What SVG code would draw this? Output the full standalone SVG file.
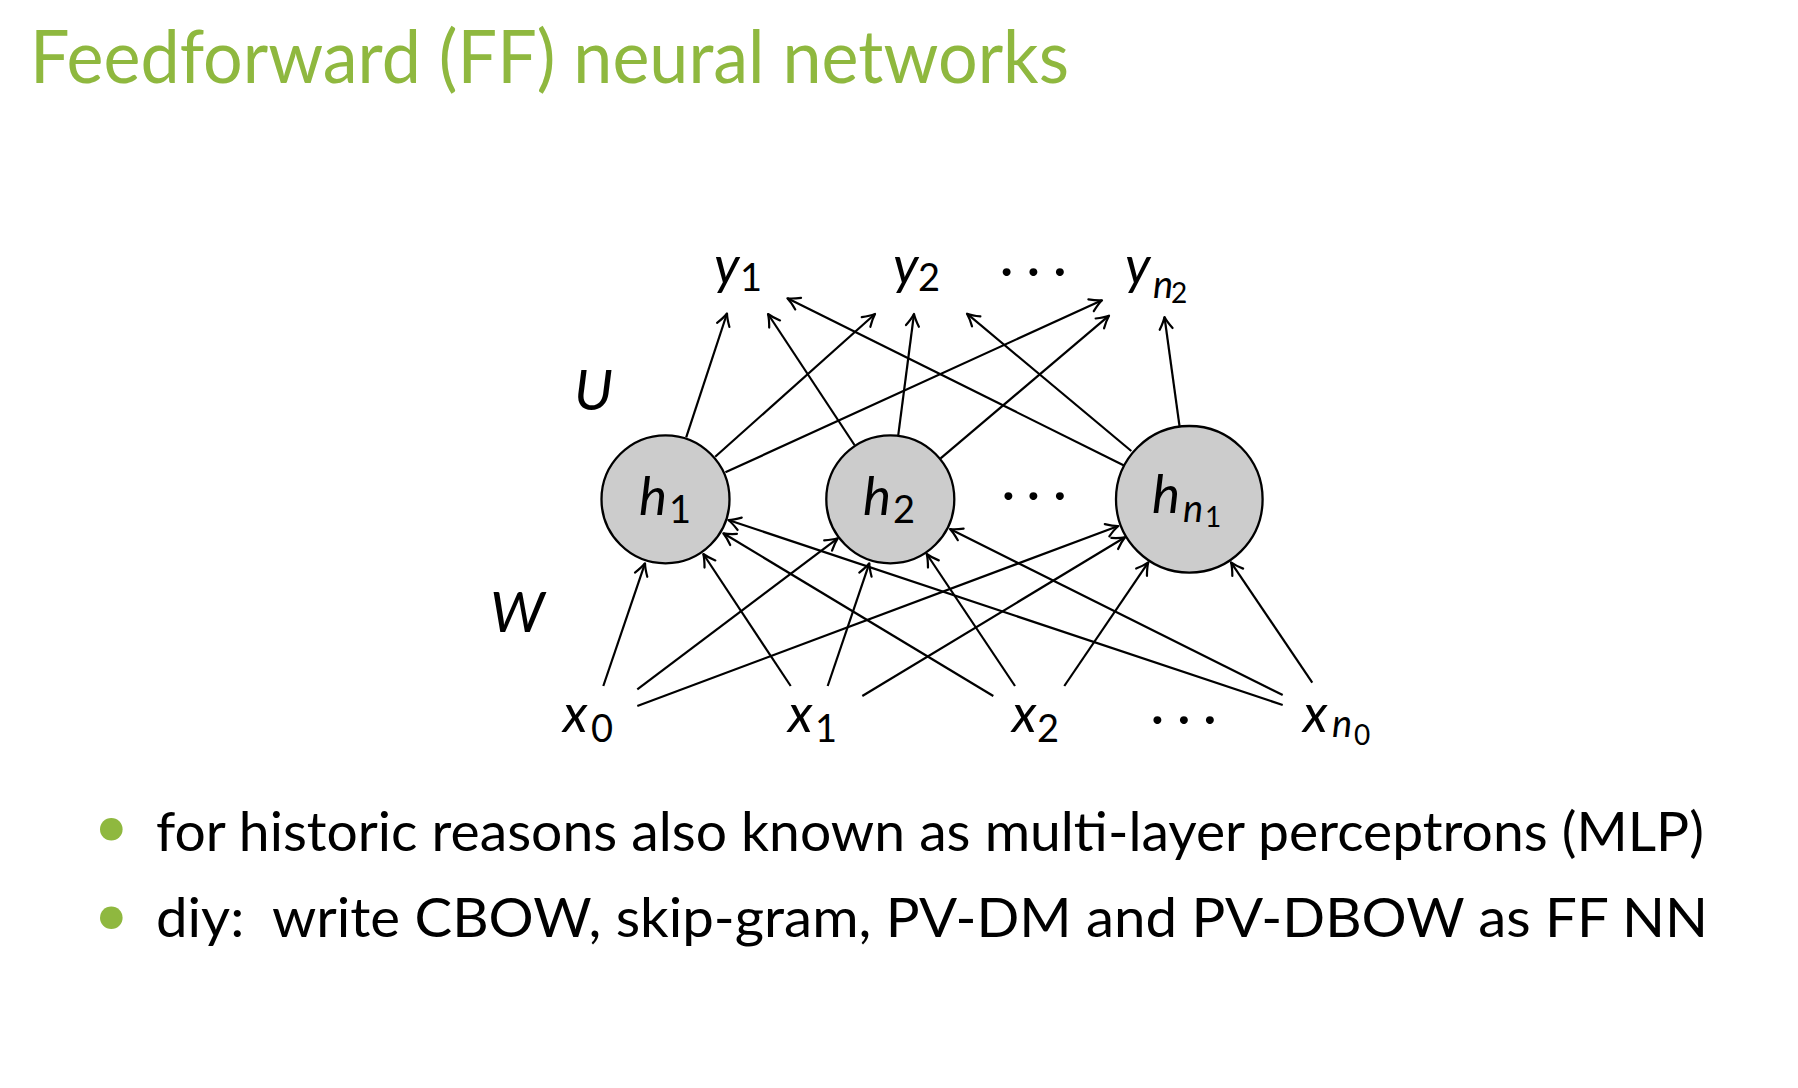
<svg xmlns="http://www.w3.org/2000/svg" width="1798" height="1088" viewBox="0 0 1798 1088">
  <style>
    .title { font-family: Lato, "Open Sans", sans-serif; font-size: 73.5px; fill: #8fb83f; }
    .body { font-family: Lato, "Open Sans", sans-serif; font-size: 54px; fill: #000; white-space: pre; }
    .bullet { fill: #8fb83f; }
    .mi { font-family: Lato, "Open Sans", sans-serif; font-style: italic; font-size: 53px; fill: #000; }
    .big { font-family: Lato, "Open Sans", sans-serif; font-style: italic; font-size: 57px; fill: #000; }
    .sub { font-style: normal; font-size: 38px; }
    .subi { font-style: italic; font-size: 38px; }
    .ssub { font-style: normal; font-size: 28px; }
    .dots { font-family: Lato, "Open Sans", sans-serif; font-size: 53px; fill: #000; text-anchor: middle; }
    .unit { fill: #cccccc; stroke: #000; stroke-width: 2.3; }
    .edge { stroke: #000; stroke-width: 2.2; fill: none; marker-end: url(#tip); }
  </style>
  <defs>
    <marker id="tip" markerUnits="userSpaceOnUse" viewBox="-16 -10 20 20" refX="0" refY="0" markerWidth="20" markerHeight="20" orient="auto">
      <path d="M -12 -6.5 Q -5 -1.8 0 0 Q -5 1.8 -12 6.5" fill="none" stroke="#000" stroke-width="2.2" stroke-linecap="round" stroke-linejoin="round"/>
    </marker>
  </defs>

  <rect width="1798" height="1088" fill="#fff"/>

  <text class="title" x="30" y="82.7" textLength="1039" lengthAdjust="spacingAndGlyphs">Feedforward (FF) neural networks</text>

  <!-- connectors: input layer to hidden layer (W), hidden layer to output layer (U) -->
  <g id="connectors">
    <line class="edge" x1="603.3" y1="686" x2="645" y2="563.3"/>
    <line class="edge" x1="637.3" y1="689.3" x2="837.7" y2="538.3"/>
    <line class="edge" x1="637.3" y1="706" x2="1118.3" y2="526"/>
    <line class="edge" x1="790.7" y1="686" x2="703.3" y2="554"/>
    <line class="edge" x1="827.7" y1="686" x2="869.3" y2="563.3"/>
    <line class="edge" x1="862.3" y1="696" x2="1125" y2="537.3"/>
    <line class="edge" x1="993.3" y1="696" x2="723.3" y2="533.3"/>
    <line class="edge" x1="1015" y1="686" x2="926.7" y2="554"/>
    <line class="edge" x1="1064.3" y1="686" x2="1148.3" y2="562.3"/>
    <line class="edge" x1="1282.7" y1="705" x2="728.3" y2="520"/>
    <line class="edge" x1="1282.7" y1="695" x2="950" y2="529"/>
    <line class="edge" x1="1312.3" y1="682.7" x2="1231" y2="562.3"/>

    <line class="edge" x1="686.2" y1="437.3" x2="727" y2="313.5"/>
    <line class="edge" x1="715.2" y1="456.7" x2="875" y2="314"/>
    <line class="edge" x1="725.4" y1="472.3" x2="1102" y2="300.3"/>
    <line class="edge" x1="854.5" y1="445" x2="768" y2="314"/>
    <line class="edge" x1="898.2" y1="435.7" x2="914" y2="314"/>
    <line class="edge" x1="940.6" y1="458.3" x2="1109" y2="315.7"/>
    <line class="edge" x1="1125" y1="466" x2="787.4" y2="298.3"/>
    <line class="edge" x1="1131.3" y1="451" x2="967" y2="313.7"/>
    <line class="edge" x1="1179.5" y1="426" x2="1164.5" y2="317"/>
  </g>

  <!-- hidden units -->
  <g id="h1">
    <circle class="unit" cx="665.5" cy="499.3" r="64"/>
    <text class="mi"><tspan x="639" y="515">h</tspan><tspan class="sub" x="669" y="523.3">1</tspan></text>
  </g>
  <g id="h2">
    <circle class="unit" cx="890.3" cy="499.3" r="64"/>
    <text class="mi"><tspan x="863" y="515">h</tspan><tspan class="sub" x="893" y="523.3">2</tspan></text>
  </g>
  <g id="hn1">
    <circle class="unit" cx="1189.3" cy="499.3" r="73.3"/>
    <text class="mi"><tspan x="1152" y="512.7">h</tspan><tspan class="subi" x="1183" y="521.7">n</tspan><tspan class="ssub" x="1205" y="526.7">1</tspan></text>
  </g>
  <g id="hdots">
    <text class="dots"><tspan x="1008.3 1033.3 1060" y="512">···</tspan></text>
  </g>

  <!-- output units -->
  <g id="y1">
    <text class="mi"><tspan x="714" y="283.7">y</tspan><tspan class="sub" x="740" y="291">1</tspan></text>
  </g>
  <g id="y2">
    <text class="mi"><tspan x="893" y="283.7">y</tspan><tspan class="sub" x="918" y="291">2</tspan></text>
  </g>
  <g id="ydots">
    <text class="dots"><tspan x="1006.7 1033.3 1060" y="288">···</tspan></text>
  </g>
  <g id="yn2">
    <text class="mi"><tspan x="1125" y="283.7">y</tspan><tspan class="subi" x="1153" y="298">n</tspan><tspan class="ssub" x="1171" y="303.3">2</tspan></text>
  </g>

  <!-- input units -->
  <g id="x0">
    <text class="mi"><tspan x="563" y="731.7">x</tspan><tspan class="sub" x="591" y="741.7">0</tspan></text>
  </g>
  <g id="x1">
    <text class="mi"><tspan x="788" y="731.7">x</tspan><tspan class="sub" x="815" y="741.7">1</tspan></text>
  </g>
  <g id="x2">
    <text class="mi"><tspan x="1012" y="731.7">x</tspan><tspan class="sub" x="1037" y="741.7">2</tspan></text>
  </g>
  <g id="xdots">
    <text class="dots"><tspan x="1157.3 1184 1210" y="736">···</tspan></text>
  </g>
  <g id="xn0">
    <text class="mi"><tspan x="1303" y="731.7">x</tspan><tspan class="subi" x="1332" y="736.7">n</tspan><tspan class="ssub" x="1354" y="745">0</tspan></text>
  </g>

  <!-- weight matrix labels -->
  <text class="big" x="574" y="410">U</text>
  <text class="big" x="490" y="631.7">W</text>

  <!-- bullet list -->
  <circle class="bullet" cx="111.3" cy="829.3" r="11.3"/>
  <text class="body" x="156" y="850.7" textLength="1548" lengthAdjust="spacingAndGlyphs">for historic reasons also known as multi-layer perceptrons (MLP)</text>
  <circle class="bullet" cx="111.3" cy="917.7" r="11.3"/>
  <text class="body" x="156" y="936.7" textLength="1552" lengthAdjust="spacingAndGlyphs">diy:  write CBOW, skip-gram, PV-DM and PV-DBOW as FF NN</text>
</svg>
